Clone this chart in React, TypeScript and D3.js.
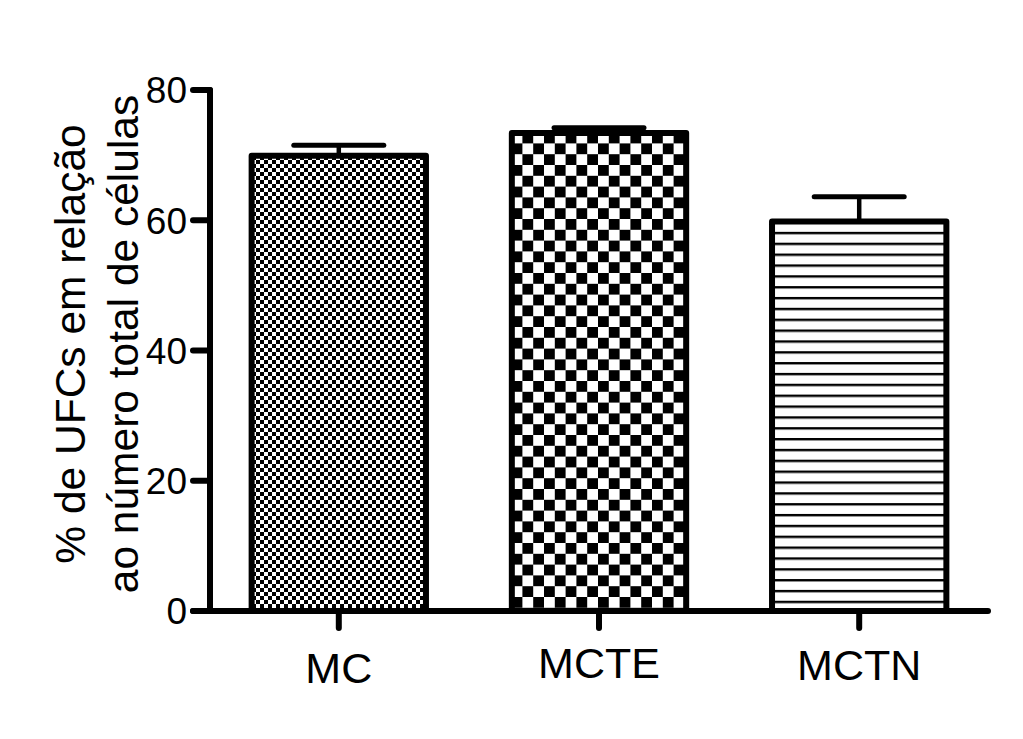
import React from "react";
import * as d3 from "d3";

const categories = ["MC", "MCTE", "MCTN"];
const means = [69.9, 73.4, 59.8];
const errors = [1.6, 0.8, 3.8];
const yTicks = [0, 20, 40, 60, 80];
const patterns = ["checkFine", "checkCoarse", "hlines"];
const labelBaselines = [683, 678, 680];

export default function App() {
  const W = 1023, H = 739;
  const y = d3.scaleLinear().domain([0, 80]).range([611, 90]);
  const x = d3.scaleBand().domain(categories).range([210, 988]).paddingInner(0.33).paddingOuter(0.16);
  const font = "Liberation Sans, Arial, sans-serif";
  const bw = x.bandwidth();
  return (
    <svg width={W} height={H} style={{ position: "absolute", left: 0, top: 0, background: "#fff" }}>
      <defs>
        <pattern id="checkFine" patternUnits="userSpaceOnUse" width={8} height={8}>
          <rect width={8} height={8} fill="#fff" />
          <rect width={4} height={4} fill="#000" />
          <rect x={4} y={4} width={4} height={4} fill="#000" />
        </pattern>
        <pattern id="checkCoarse" patternUnits="userSpaceOnUse" width={21.6} height={21.6} x={4} y={3}>
          <rect width={21.6} height={21.6} fill="#fff" />
          <rect width={10.8} height={10.8} fill="#000" />
          <rect x={10.8} y={10.8} width={10.8} height={10.8} fill="#000" />
        </pattern>
        <pattern id="hlines" patternUnits="userSpaceOnUse" width={20} height={10.85} y={4}>
          <rect width={20} height={10.85} fill="#fff" />
          <rect y={0} width={20} height={2.4} fill="#000" />
        </pattern>
      </defs>
      {categories.map((c, i) => {
        const x0 = x(c)!;
        const cx = x0 + bw / 2;
        const top = y(means[i]);
        const et = y(means[i] + errors[i]);
        return (
          <g key={c}>
            <line x1={cx} x2={cx} y1={top} y2={et} stroke="#000" strokeWidth={4.5} />
            <line x1={cx - 45} x2={cx + 45} y1={et} y2={et} stroke="#000" strokeWidth={5} strokeLinecap="round" />
            <rect x={x0} y={top} width={bw} height={y(0) - top} fill={`url(#${patterns[i]})`} stroke="#000" strokeWidth={6} strokeLinejoin="round" />
          </g>
        );
      })}
      <g stroke="#000" strokeWidth={6} strokeLinecap="round" fill="none">
        <line x1={210} x2={210} y1={y(80)} y2={y(0)} />
        <line x1={193} x2={988} y1={y(0)} y2={y(0)} />
        {yTicks.map((t) => (
          <line key={t} x1={193} x2={210} y1={y(t)} y2={y(t)} />
        ))}
        {categories.map((c) => (
          <line key={c} x1={x(c)! + bw / 2} x2={x(c)! + bw / 2} y1={y(0)} y2={628} />
        ))}
      </g>
      <g fontFamily={font} fill="#000">
        {yTicks.map((t) => (
          <text key={t} x={187} y={y(t)} dy="0.36em" textAnchor="end" fontSize={37}>{t}</text>
        ))}
        {categories.map((c, i) => (
          <text key={c} x={x(c)! + bw / 2} y={labelBaselines[i]} textAnchor="middle" fontSize={43}>{c}</text>
        ))}
      </g>
      <g fontFamily={font} fontSize={42.5} fill="#000" transform="translate(0,344) rotate(-90)">
        <text x={0} y={85} textAnchor="middle">% de UFCs em relação</text>
        <text x={0} y={138} textAnchor="middle">ao número total de células</text>
      </g>
    </svg>
  );
}
